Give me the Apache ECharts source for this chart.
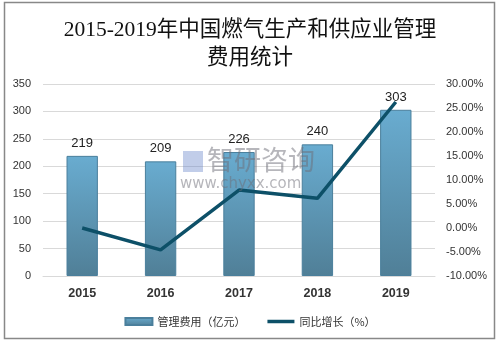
<!DOCTYPE html>
<html>
<head>
<meta charset="utf-8">
<script src="https://cdn.jsdelivr.net/npm/echarts@6/dist/echarts.min.js"></script>
<style>html,body{margin:0;padding:0;background:#fff}#c{width:500px;height:343px}</style>
</head>
<body>
<div id="c"></div>
<script>
const years = ['2015', '2016', '2017', '2018', '2019'];
const costs = [219, 209, 226, 240, 303];
const growth = [0.0, -4.57, 7.9, 6.19, 26.25];
const leftTicks = [0, 350, 50];
const rightTicks = [-10, 30, 5];

const chart = echarts.init(document.getElementById('c'), null, {renderer: 'canvas'});
chart.setOption({
  backgroundColor: '#fff',
  animation: false,
  title: {
    text: '2015-2019年中国燃气生产和供应业管理\n费用统计',
    left: 'center', top: 11,
    textStyle: {fontFamily: 'Liberation Serif, Noto Sans CJK SC', fontSize: 21.5, fontWeight: 'normal', color: '#111', lineHeight: 28}
  },
  graphic: [
    {type: 'rect', shape: {x: 4.5, y: 2.5, width: 490, height: 336}, style: {fill: 'none', stroke: '#888', lineWidth: 1.5}, z: 100},
    {type: 'text', left: 207, top: 146, style: {text: '智研咨询', fontSize: 27, fontFamily: 'Noto Sans CJK SC', fill: 'rgba(110,110,120,0.5)'}, z: 50},
    {type: 'text', left: 180, top: 177, style: {text: 'www.chyxx.com', fontSize: 15, fontFamily: 'DejaVu Sans', fill: 'rgba(110,110,120,0.5)'}, z: 50},
    {type: 'rect', shape: {x: 183, y: 151, width: 20, height: 21}, style: {fill: 'rgba(100,130,200,0.4)'}, z: 50}
  ],
  legend: {
    bottom: 11, left: 'center', itemGap: 22, itemWidth: 27, itemHeight: 7,
    textStyle: {fontSize: 11, color: '#333', fontFamily: 'Noto Sans CJK SC'},
    data: [{name: '管理费用（亿元）', icon: 'rect'},
           {name: '同比增长（%）', icon: 'path://M0,0 L27,0 L27,3.5 L0,3.5 Z'}]
  },
  grid: {left: 43, right: 65, top: 84, bottom: 67},
  xAxis: {
    type: 'category', data: years,
    axisLine: {lineStyle: {color: '#d9d9d9'}}, axisTick: {show: false},
    axisLabel: {fontSize: 12.5, fontWeight: 'bold', color: '#333', margin: 11, fontFamily: 'Liberation Sans'}
  },
  yAxis: [
    {type: 'value', min: leftTicks[0], max: leftTicks[1], interval: leftTicks[2],
     axisLine: {show: false}, axisTick: {show: false},
     splitLine: {lineStyle: {color: '#d9d9d9'}},
     axisLabel: {fontSize: 11, color: '#333', margin: 12, fontFamily: 'Liberation Sans'}},
    {type: 'value', min: rightTicks[0], max: rightTicks[1], interval: rightTicks[2],
     axisLine: {show: false}, axisTick: {show: false}, splitLine: {show: false},
     axisLabel: {fontSize: 11, color: '#333', margin: 11, fontFamily: 'Liberation Sans',
       formatter: v => v.toFixed(2) + '%'}}
  ],
  series: [
    {name: '管理费用（亿元）', type: 'bar', data: costs, barWidth: '40%',
     itemStyle: {color: new echarts.graphic.LinearGradient(0, 0, 0, 1, [
       {offset: 0, color: '#69acd0'}, {offset: 1, color: '#507f97'}]),
       borderColor: '#4a7f9c', borderWidth: 1},
     label: {show: true, position: 'top', distance: 6, fontSize: 13, color: '#222', fontFamily: 'Liberation Sans'}},
    {name: '同比增长（%）', type: 'line', yAxisIndex: 1, data: growth,
     showSymbol: false, symbol: 'none',
     lineStyle: {color: '#0d5068', width: 3.5}, itemStyle: {color: '#0d5068'}}
  ]
});
</script>
</body>
</html>
